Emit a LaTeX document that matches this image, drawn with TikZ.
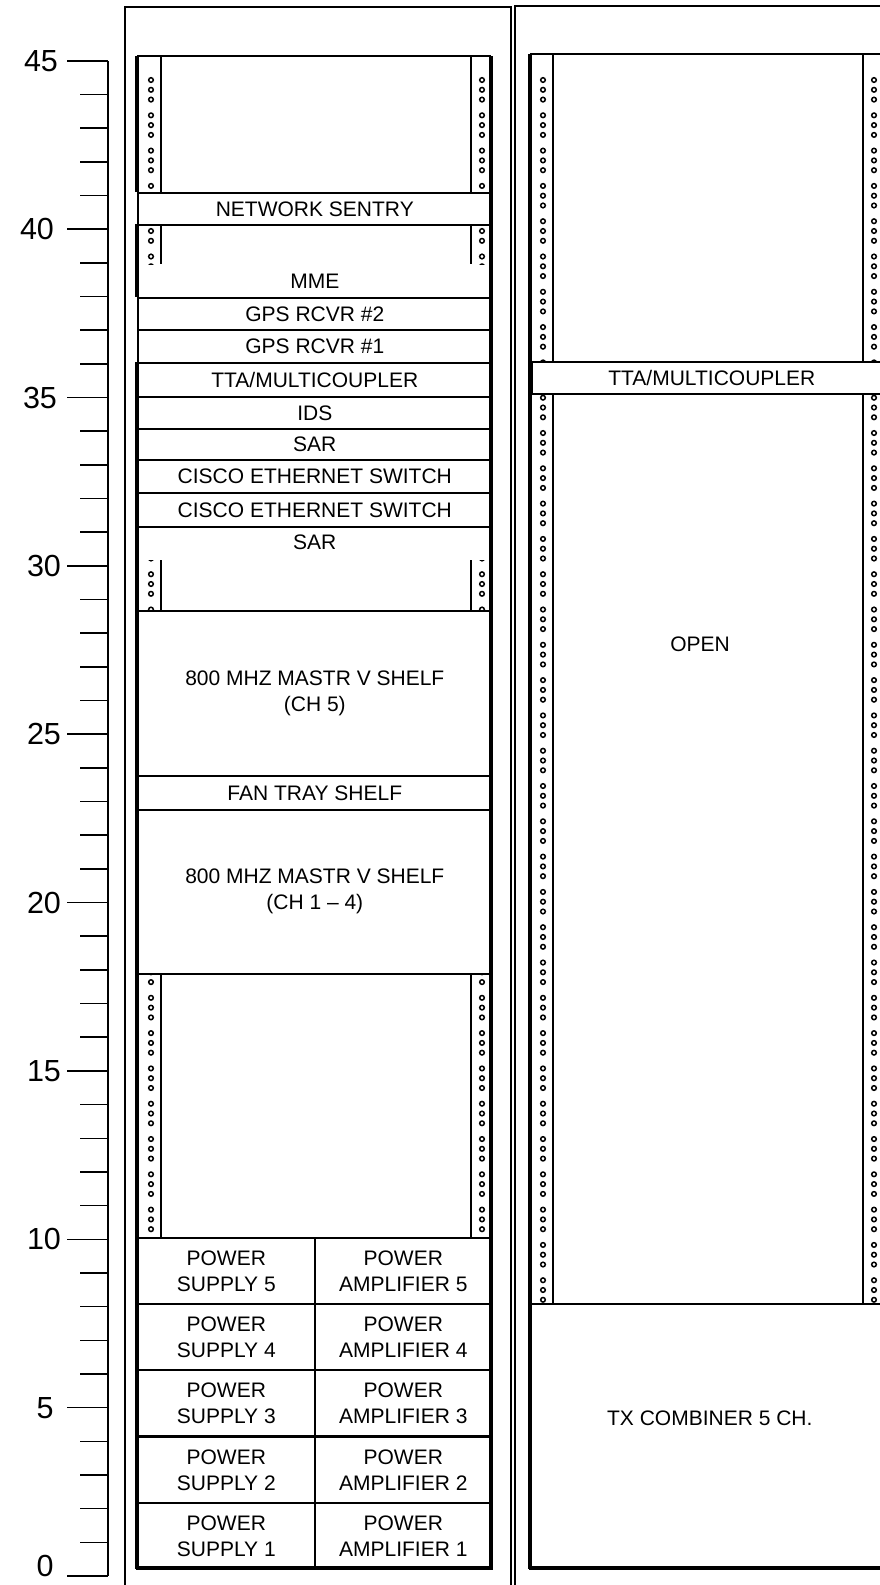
\documentclass[tikz,border=0pt]{standalone}
\usepackage{fontspec}
\setmainfont{Liberation Sans}
\usepackage{tikz}
\usetikzlibrary{positioning}

\newcommand{\rackfont}{\fontsize{21}{26}\selectfont}
\newcommand{\railholes}[3]{%
  \begin{scope}
    \clip (#1-6,#2) rectangle (#1+6,#3);
    \foreach \k in {0,...,36}
      \foreach \d in {0,9.8,19.6}
        \draw[hole] (#1,80+35.3*\k+\d) circle (2.3pt);
  \end{scope}}

\begin{document}
\begin{tikzpicture}[
    x=1pt, y=-1pt,
    shelf/.style={draw, fill=white, line width=1.6pt, minimum width=354pt, minimum height=#1, anchor=north west, inner sep=0pt, align=center, font=\rackfont},
    pwr/.style={shelf=#1, minimum width=177pt},
    rbox/.style={shelf=#1, minimum width=360pt},
    lbl/.style={inner sep=0pt, align=center, font=\rackfont},
    hole/.style={line width=1.5pt},
    rail/.style={line width=1.2pt},
    rackline/.style={line width=3.2pt},
    cabinet/.style={line width=1.6pt},
    ruler/.style={line width=1.6pt},
    num/.style={inner sep=0pt, font=\fontsize{30.5}{36}\selectfont}
]
\useasboundingbox (0,0) rectangle (880,1585);

\draw[cabinet] (125,1590) -- (125,7) -- (511,7) -- (511,1590);
\draw[cabinet] (515,1590) -- (515,6) -- (885,6);

\draw[ruler] (108,61) -- (108,1576);
\foreach \u in {1,...,44}
  \draw[ruler] (80,1576-33.67*\u) -- (108,1576-33.67*\u);
\foreach \u/\cx in {5/45,10/44,15/44,20/44,25/44,30/44,35/40,40/37,45/41} {
  \draw[ruler] (67,1576-33.67*\u) -- (108,1576-33.67*\u);
  \node[num] (n\u) at (\cx,1576-33.67*\u) {\u};
}
\draw[ruler] (67,1576) -- (108,1576);
\node[num] (n0) at (45,1566) {0};

\node[shelf=32pt] (sentry) at (137,192) {NETWORK SENTRY};
\node[shelf=73pt] (mme) at (137,224) {};
\node[lbl, above=9.5pt of mme.south] (mmetxt) {MME};
\node[shelf=32pt] (gpsb) at (137,297) {GPS RCVR \#2};
\node[shelf=33pt] (gpsa) at (137,329) {GPS RCVR \#1};
\node[shelf=34pt] (ttaa) at (137,362) {TTA/MULTICOUPLER};
\node[shelf=32pt] (ids) at (137,396) {IDS};
\node[shelf=31pt] (sara) at (137,428) {SAR};
\node[shelf=33pt] (ciscoa) at (137,459) {CISCO ETHERNET SWITCH};
\node[shelf=34pt] (ciscob) at (137,492) {CISCO ETHERNET SWITCH};
\node[shelf=84pt] (sarb) at (137,526) {};
\node[lbl, below=8.5pt of sarb.north] (sarbtxt) {SAR};
\node[shelf=165pt] (mastra) at (137,610) {800 MHZ MASTR V SHELF\\(CH 5)};
\node[shelf=34pt] (fan) at (137,775) {FAN TRAY SHELF};
\node[shelf=164pt] (mastrb) at (137,809) {800 MHZ MASTR V SHELF\\(CH 1 -- 4)};
\foreach \n/\y in {5/1237,4/1303,3/1369,2/1436,1/1502} {
  \node[pwr=66pt] (ps\n) at (137,\y) {POWER\\SUPPLY \n};
  \node[pwr=66pt] (pa\n) at (314,\y) {POWER\\AMPLIFIER \n};
}

\node[rbox=32pt] (ttab) at (531,361) {TTA/MULTICOUPLER};
\node[rbox=265pt] (txcomb) at (529,1303) {};
\node[lbl] (txtxt) at ([yshift=18pt]txcomb.center) {TX COMBINER 5 CH.};
\node[lbl] (open) at (700,644) {OPEN};

\foreach \ya/\yb in {56/192,224/264,560/610,973/1237} {
  \draw[rail] (161,\ya) -- (161,\yb);
  \draw[rail] (471,\ya) -- (471,\yb);
  \railholes{151}{\ya}{\yb}
  \railholes{482}{\ya}{\yb}
}
\foreach \ya/\yb in {54/361,393/1303} {
  \draw[rail] (553,\ya) -- (553,\yb);
  \draw[rail] (863,\ya) -- (863,\yb);
  \railholes{543}{\ya}{\yb}
  \railholes{874}{\ya}{\yb}
}

\draw[cabinet] (137,56) -- (491,56);
\draw[rackline] (137,56) -- (137,192) (137,224) -- (137,297) (137,362) -- (137,1569);
\draw[rackline] (491,56) -- (491,1569);
\draw[rackline] (136,1568) -- (492,1568);
\draw[cabinet] (530,54) -- (885,54);
\draw[rackline] (530,54) -- (530,1569);
\draw[rackline] (529,1568) -- (885,1568);
\end{tikzpicture}
\end{document}
